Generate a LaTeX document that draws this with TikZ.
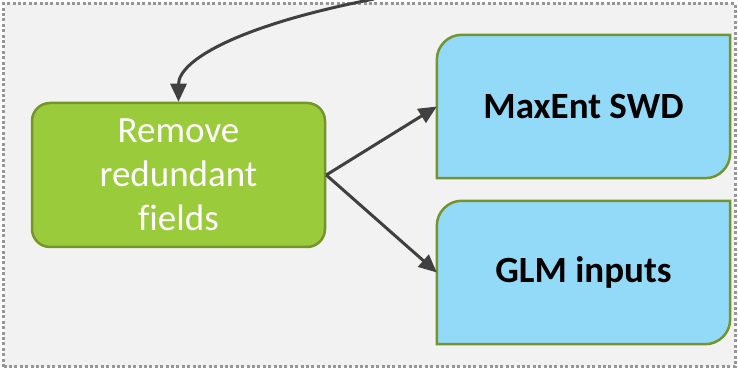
\documentclass[tikz,border=0pt]{standalone}
\usepackage{fontspec}
\setmainfont[Ligatures=NoCommon]{Carlito}
\usetikzlibrary{arrows.meta}
\definecolor{panelbg}{RGB}{242,242,242}
\definecolor{panelrule}{RGB}{150,150,150}
\definecolor{greenfill}{RGB}{154,203,58}
\definecolor{greenrule}{RGB}{118,148,44}
\definecolor{bluefill}{RGB}{147,218,248}
\definecolor{linkgray}{RGB}{64,64,64}
\tikzset{
  stepbox/.style={rectangle, rounded corners=18pt, fill=greenfill, draw=greenrule,
    line width=2.5pt, minimum width=293pt, minimum height=144pt, inner sep=0pt,
    text=white, align=center, font=\fontsize{37}{44}\selectfont},
  outbox/.style={rectangle, draw=none, minimum width=293pt, minimum height=143pt,
    inner sep=0pt, align=center, font=\fontsize{37}{44}\selectfont\bfseries},
  outline/.style={fill=bluefill, draw=greenrule, line width=2.5pt},
  link/.style={draw=linkgray, line width=3pt,
    -{Triangle[length=18pt,width=16pt]}}
}
\begin{document}
\begin{tikzpicture}[x=1pt,y=1pt]
  \useasboundingbox (0,0) rectangle (738,371);
  \clip (0,0) rectangle (738,371);
  % panel
  \draw[fill=panelbg, draw=panelrule, line width=3pt, dash pattern=on 3pt off 2.4pt]
    (3.5,4) rectangle (735,367.5);
  % green process box
  \node[stepbox] (rm) at (178.5,196) {Remove\\redundant\\fields};
  % output boxes (outline drawn from their anchors)
  \node[outbox] (swd) at (583.5,264.5) {};
  \node[outbox] (glm) at (583.5,98.5) {};
  \foreach \b in {swd,glm}{
    \draw[outline] (\b.south west) -- ([yshift=-25pt]\b.north west)
      arc[start angle=180, end angle=90, radius=25pt] -- (\b.north east)
      -- ([yshift=25pt]\b.south east)
      arc[start angle=0, end angle=-90, radius=25pt] -- cycle;
  }
  \node[outbox] at (swd) {MaxEnt SWD};
  \node[outbox] at (glm) {GLM inputs};
  % connectors
  \coordinate (src) at (374,372);
  \draw[link] (src) .. controls (240,346) and (178.5,311) .. (rm.north);
  \draw[link] (rm.east) -- (swd.west);
  \draw[link] (rm.east) -- (glm.west);
\end{tikzpicture}
\end{document}
